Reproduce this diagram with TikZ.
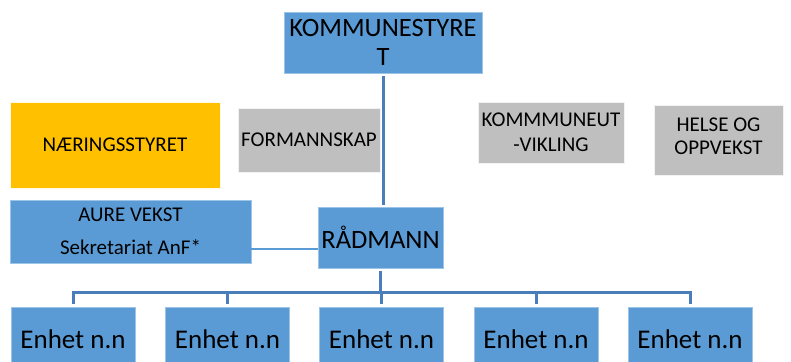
\documentclass[tikz,border=0pt]{standalone}
\usepackage{fontspec}
\setmainfont{Carlito}
\definecolor{boxblue}{HTML}{5B9BD5}
\definecolor{boxgray}{HTML}{BFBFBF}
\definecolor{boxyellow}{HTML}{FFC000}
\definecolor{linkblue}{HTML}{4A7EBB}
\definecolor{edgeblue}{HTML}{9DC3E6}
\tikzset{
  orgbox/.style={draw=edgeblue, line width=0.6pt, fill=boxblue, inner sep=0pt, align=center, text=black},
  graybox/.style={draw=white!90!gray, line width=0.6pt, fill=boxgray, inner sep=0pt, align=center, text=black},
  yellowbox/.style={draw=white!90!boxyellow, line width=0.6pt, fill=boxyellow, inner sep=0pt, align=center, text=black},
  bigtext/.style={font=\fontsize{26.5}{29}\selectfont},
  midtext/.style={font=\fontsize{21}{24.5}\selectfont},
  plaintext/.style={inner sep=0pt, align=center, text=black},
  trunk/.style={draw=linkblue, line width=3pt},
  sidelink/.style={draw=boxblue, line width=1.2pt},
}
\begin{document}
\begin{tikzpicture}[x=1pt,y=-1pt]
\useasboundingbox (0,0) rectangle (791,361);
\clip (0,0) rectangle (791,361);
% boxes
\node[orgbox, bigtext, minimum width=198, minimum height=61] (ks) at (383,42.5) {KOMMUNESTYRE\\T};
\node[yellowbox, midtext, minimum width=210, minimum height=86] (nar) at (115,145) {NÆRINGSSTYRET};
\node[graybox, midtext, minimum width=142, minimum height=64] (form) at (309,140) {FORMANNSKAP};
\node[graybox, midtext, minimum width=146, minimum height=61] (kom) at (551,132.5) {KOMMMUNEUT\\-VIKLING};
\node[graybox, minimum width=129, minimum height=70] (hel) at (718.5,140) {};
\node[plaintext, font=\fontsize{21}{23}\selectfont] (heltext) at ([yshift=4pt]hel.center) {HELSE OG\\OPPVEKST};
\node[orgbox, font=\fontsize{21}{33}\selectfont, minimum width=241, minimum height=63] (aure) at (130.5,231.5) {AURE VEKST\\Sekretariat AnF*};
\node[orgbox, bigtext, minimum width=125, minimum height=61] (rad) at (380.5,237.5) {RÅDMANN};
\foreach \i/\x in {1/73,2/227.5,3/381.5,4/536,5/690}{
  \node[orgbox, font=\fontsize{27}{30}\selectfont, minimum width=124, minimum height=64] (e\i) at (\x,339) {Enhet n.n};
}
% connectors
\coordinate (bus) at (0,292);
\draw[trunk, shorten <=3pt, shorten >=2pt] (ks.south) -- (ks.south |- rad.north);
\coordinate (aurelink) at ([yshift=-17.5pt]aure.east);
\draw[sidelink] (aurelink) -- (rad.west |- aurelink);
\draw[trunk, shorten <=3pt] (rad.south) -- (rad.south |- bus);
\draw[trunk] ([xshift=-1.5pt]e1.north |- bus) -- ([xshift=1.5pt]e5.north |- bus);
\foreach \i in {1,...,5}{
  \draw[trunk, shorten >=3pt] (e\i.north |- bus) -- (e\i.north);
}
\end{tikzpicture}
\end{document}
